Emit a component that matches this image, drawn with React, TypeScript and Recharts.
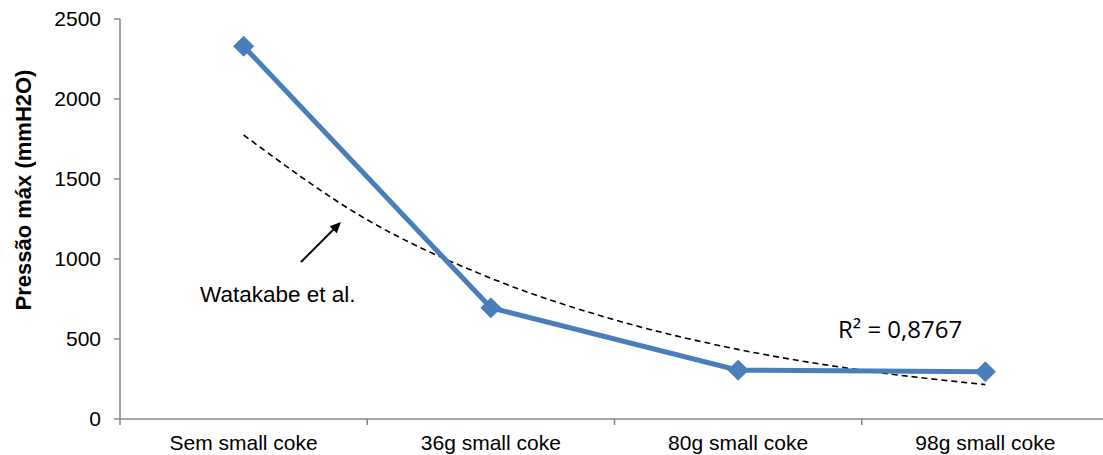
import React from 'react';
import { ComposedChart, Line, XAxis, YAxis, Customized } from 'recharts';

const categories = ['Sem small coke', '36g small coke', '80g small coke', '98g small coke'];
const categoryX = [1, 2, 3, 4];
const pressure = [2330, 695, 305, 295];
const trendX = [1, 1.5, 2, 2.5, 3, 3.5, 4];
const trendValues = [1775, 1245, 880, 620, 435, 305, 215];
const yTicks = [0, 500, 1000, 1500, 2000, 2500];
const xTicks = [0.5, 1, 1.5, 2, 2.5, 3, 3.5, 4, 4.5];
const trendLabel = 'Watakabe et al.';
const r2Label = 'R² = 0,8767';
const yTitle = 'Pressão máx (mmH2O)';

const allX = Array.from(new Set([...categoryX, ...trendX])).sort((a, b) => a - b);
const data = allX.map((x) => {
  const ci = categoryX.indexOf(x);
  const ti = trendX.indexOf(x);
  return {
    x,
    pressure: ci >= 0 ? pressure[ci] : null,
    trend: ti >= 0 ? trendValues[ti] : null,
  };
});

const FONT = '"Liberation Sans", Arial, sans-serif';
const AXIS = '#868686';
const BLUE = '#4A7EBB';

const XTick = (props: any) => {
  const { x, y, payload } = props;
  const v = payload.value;
  if (Math.abs(v - Math.round(v)) > 0.01) {
    return <line x1={x} y1={y} x2={x} y2={y + 6} stroke={AXIS} strokeWidth={1.5} />;
  }
  const idx = categoryX.indexOf(Math.round(v));
  return (
    <text x={x} y={y + 31} textAnchor="middle" fontFamily={FONT} fontSize={21} fill="#000">
      {categories[idx]}
    </text>
  );
};

const Diamond = (props: any) => {
  const { cx, cy, value } = props;
  if (value == null || cx == null || cy == null) return <g />;
  const r = 10;
  return (
    <polygon
      points={`${cx},${cy - r} ${cx + r},${cy} ${cx},${cy + r} ${cx - r},${cy}`}
      fill={BLUE}
      stroke={BLUE}
      strokeWidth={1}
    />
  );
};

const Annotations = () => {
  const tail = { x: 301, y: 262 };
  const tip = { x: 341, y: 222 };
  const dx = tip.x - tail.x;
  const dy = tip.y - tail.y;
  const len = Math.sqrt(dx * dx + dy * dy);
  const ux = dx / len;
  const uy = dy / len;
  const hl = 11;
  const hw = 5;
  const bx = tip.x - ux * hl;
  const by = tip.y - uy * hl;
  return (
    <g>
      <text x={0} y={0} transform="translate(31,190) rotate(-90)" textAnchor="middle" fontFamily={FONT} fontWeight="bold" fontSize={22} fill="#000">
        {yTitle}
      </text>
      <line x1={tail.x} y1={tail.y} x2={bx} y2={by} stroke="#000" strokeWidth={2} />
      <polygon
        points={`${tip.x},${tip.y} ${bx - uy * hw},${by + ux * hw} ${bx + uy * hw},${by - ux * hw}`}
        fill="#000"
      />
      <text x={200} y={302} fontFamily={FONT} fontSize={22.5} fill="#000">
        {trendLabel}
      </text>
      <text x={838} y={338} fontFamily='"Open Sans", sans-serif' fontSize={24} fill="#000">
        {r2Label}
      </text>
    </g>
  );
};

export default function App() {
  return (
    <div style={{ position: 'absolute', left: 0, top: 0, width: 1103, height: 455, overflow: 'hidden', background: '#fff' }}>
      <ComposedChart width={1110} height={455} data={data} margin={{ top: 19, right: 1, bottom: 0, left: 0 }}>
        <XAxis
          dataKey="x"
          type="number"
          domain={[0.5, 4.5]}
          ticks={xTicks}
          interval={0}
          height={36}
          tickSize={0}
          tickMargin={0}
          tickLine={false}
          axisLine={{ stroke: AXIS, strokeWidth: 1.5 }}
          tick={<XTick />}
          allowDataOverflow
        />
        <YAxis
          type="number"
          domain={[0, 2500]}
          ticks={yTicks}
          interval={0}
          width={120}
          tickSize={6}
          tickMargin={13}
          axisLine={{ stroke: AXIS, strokeWidth: 1.5 }}
          tickLine={{ stroke: AXIS, strokeWidth: 1.5 }}
          tick={{ fontFamily: FONT, fontSize: 21, fill: '#000' }}
        />
        <Line
          dataKey="trend"
          stroke="#000"
          strokeWidth={1.6}
          strokeDasharray="6 4"
          type="monotone"
          dot={false}
          activeDot={false}
          connectNulls
          isAnimationActive={false}
        />
        <Line
          dataKey="pressure"
          stroke={BLUE}
          strokeWidth={5}
          type="linear"
          dot={<Diamond />}
          activeDot={false}
          connectNulls
          isAnimationActive={false}
        />
        <Customized component={<Annotations />} />
      </ComposedChart>
    </div>
  );
}
